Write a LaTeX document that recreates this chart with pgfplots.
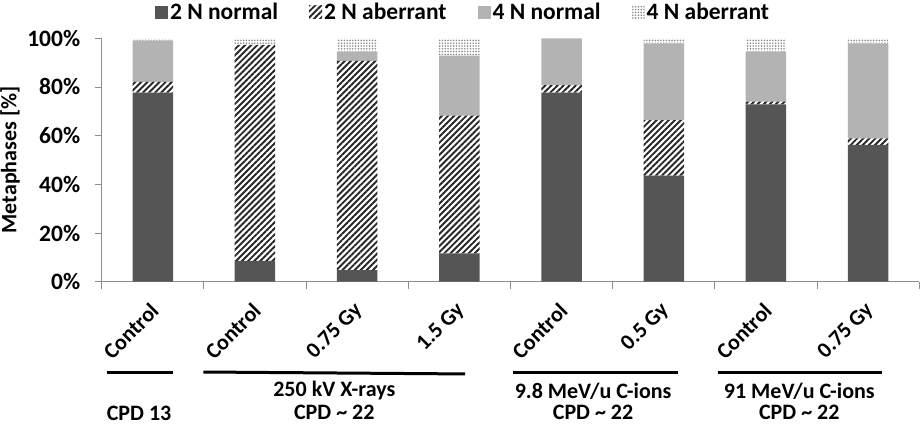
\documentclass[border=0pt]{standalone}
\usepackage{fontspec}
\setmainfont{Carlito}
\usepackage{pgfplots}
\pgfplotsset{compat=1.18}
\usetikzlibrary{patterns.meta}
\definecolor{dk}{HTML}{555555}
\definecolor{lt}{HTML}{B3B3B3}
\definecolor{ax}{HTML}{8C8C8C}
\newcommand\f{\fontsize{22}{26}\selectfont\bfseries}
\newcommand\g{\fontsize{23.5}{27}\selectfont\bfseries}
\begin{document}
\begin{tikzpicture}
\begin{axis}[
  scale only axis,
  width=817.6pt, height=243.4pt,
  ybar stacked, bar width=40.5pt,
  xmin=-0.5, xmax=7.5, ymin=0, ymax=100,
  axis x line=bottom, axis y line=left,
  axis line style={-, draw=ax, line width=0.8pt},
  tick align=outside,
  major tick length=7pt, minor tick length=7pt,
  every tick/.style={draw=ax, line width=0.8pt},
  xtick={0,...,7},
  xticklabels={Control,Control,0.75 Gy,1.5 Gy,Control,0.5 Gy,Control,0.75 Gy},
  every major x tick/.append style={draw=none},
  minor xtick={-0.5,0.5,...,7.5},
  xticklabel style={font=\f, rotate=45, anchor=east, xshift=-8.3pt, yshift=-14.4pt},
  ytick={0,20,40,60,80,100},
  yticklabels={0\%,20\%,40\%,60\%,80\%,100\%},
  yticklabel style={font=\g, xshift=-11pt},
  ylabel={Metaphases [\%]},
  every axis y label/.style={at={(axis description cs:0,0.5)}, xshift=-91.7pt, rotate=90, anchor=center, font=\f},
  clip=false,
  legend columns=4,
  legend style={at={(0.442,1.108)}, anchor=center, draw=none, font=\g, inner sep=0pt,
    /tikz/every even column/.append style={column sep=29pt}},
  legend image code/.code={\path[#1] (0pt,-6.5pt) rectangle (13pt,6.5pt);},
]
\addplot[fill=dk, draw=none] coordinates {(0,77.7) (1,8.6) (2,4.8) (3,11.6) (4,77.7) (5,43.6) (6,72.9) (7,56.2)};
\addplot[draw=none, pattern={Lines[angle=45,distance=4.3pt,line width=1.9pt]}, pattern color=black!85] coordinates {(0,4.4) (1,88.7) (2,85.9) (3,56.6) (4,3.1) (5,22.8) (6,1.1) (7,2.7)};
\addplot[fill=lt, draw=none] coordinates {(0,16.9) (1,0) (2,3.8) (3,24.7) (4,19.2) (5,31.5) (6,20.5) (7,39.0)};
\addplot[draw=none, pattern={Dots[distance=2.8pt,radius=0.9pt]}, pattern color=black!45] coordinates {(0,1.0) (1,2.7) (2,5.5) (3,7.1) (4,0) (5,2.1) (6,5.5) (7,2.1)};
\legend{2 N normal, 2 N aberrant, 4 N normal, 4 N aberrant}
\draw[line width=3pt] (axis cs:-0.451,-37.1) -- (axis cs:0.2006,-37.1);
\draw[line width=3pt] (axis cs:0.494,-37.1) -- (axis cs:3.055,-37.9);
\draw[line width=3pt] (axis cs:3.527,-37.1) -- (axis cs:5.142,-37.1);
\draw[line width=3pt] (axis cs:5.527,-37.1) -- (axis cs:7.138,-37.1);
\node[font=\f] at (axis cs:-0.134,-54) {CPD 13};
\node[font=\f] at (axis cs:1.776,-44.9) {250 kV X-rays};
\node[font=\f] at (axis cs:1.776,-53.6) {CPD \textasciitilde{} 22};
\node[font=\f] at (axis cs:4.308,-44.9) {9.8 MeV/u C-ions};
\node[font=\f] at (axis cs:4.308,-53.6) {CPD \textasciitilde{} 22};
\node[font=\f] at (axis cs:6.326,-44.9) {91 MeV/u C-ions};
\node[font=\f] at (axis cs:6.326,-53.6) {CPD \textasciitilde{} 22};
\coordinate (O) at (rel axis cs:0,0);
\end{axis}
\pgfresetboundingbox
\path[use as bounding box] (O) ++(-101.7pt,-142.3pt) rectangle ++(924pt,424pt);
\end{tikzpicture}
\end{document}
